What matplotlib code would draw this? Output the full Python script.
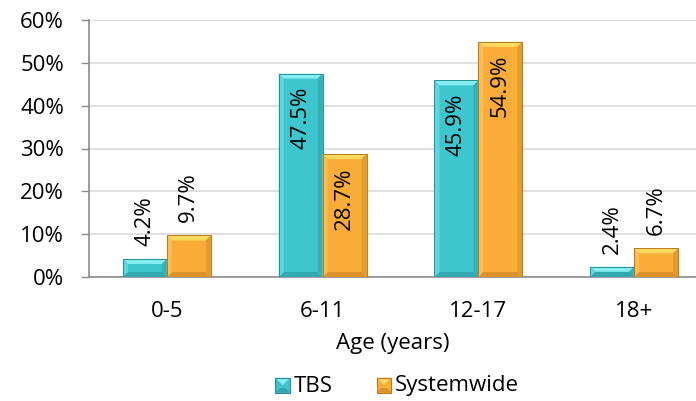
import matplotlib
matplotlib.use("Agg")
import matplotlib.pyplot as plt
from matplotlib.patches import Polygon, Rectangle
from matplotlib.legend_handler import HandlerBase
import numpy as np

categories = ["0-5", "6-11", "12-17", "18+"]
tbs = [4.2, 47.5, 45.9, 2.4]
systemwide = [9.7, 28.7, 54.9, 6.7]
series_names = ["TBS", "Systemwide"]
yticks = [0, 10, 20, 30, 40, 50, 60]

plt.rcParams["font.family"] = ["Open Sans", "DejaVu Sans"]
FS = 16

teal = dict(face="#3EC6CF", top="#86EEF3", left="#5CD7DE", right="#35B0B8",
            bottom="#34A8B0", edge="#2A8D95")
orange = dict(face="#F9AC38", top="#FFD95E", left="#FCBE4E", right="#E59A2D",
              bottom="#DC922A", edge="#B9791E")

fig = plt.figure(figsize=(6.96, 4.01), dpi=100)
ax = fig.add_axes([89 / 696, 124 / 401, 607 / 696, 257 / 401])
ax.set_xlim(-0.5, 3.397)
ax.set_ylim(0, 60)

# bevel size in data units (about 5 px)
px_x = 3.897 / 607
px_y = 60 / 257


def bevel_bar(ax, x0, w, h, c, bev=5):
    x1 = x0 + w
    bx = min(bev * px_x, w / 2)
    by = min(bev * px_y, h / 2)
    ax.add_patch(Rectangle((x0, 0), w, h, facecolor=c["face"], edgecolor="none", zorder=3))
    ax.add_patch(Polygon([(x0, h), (x1, h), (x1 - bx, h - by), (x0 + bx, h - by)],
                         closed=True, facecolor=c["top"], edgecolor="none", zorder=4))
    ax.add_patch(Polygon([(x0, 0), (x1, 0), (x1 - bx, by), (x0 + bx, by)],
                         closed=True, facecolor=c["bottom"], edgecolor="none", zorder=4))
    ax.add_patch(Polygon([(x0, 0), (x0, h), (x0 + bx, h - by), (x0 + bx, by)],
                         closed=True, facecolor=c["left"], edgecolor="none", zorder=4))
    ax.add_patch(Polygon([(x1, 0), (x1, h), (x1 - bx, h - by), (x1 - bx, by)],
                         closed=True, facecolor=c["right"], edgecolor="none", zorder=4))
    ax.add_patch(Rectangle((x0, 0), w, h, facecolor="none", edgecolor=c["edge"],
                           linewidth=0.7, zorder=5))


x = np.arange(len(categories))
w = 0.282
for i in range(len(categories)):
    for j, (vals, c) in enumerate([(tbs, teal), (systemwide, orange)]):
        x0 = x[i] - w + j * w
        v = vals[i]
        bevel_bar(ax, x0, w, v, c)
        label = f"{v:.1f}%"
        cx = x0 + w / 2
        if v > 20:
            ax.annotate(label, (cx, v), xytext=(0, -13), textcoords="offset pixels",
                        rotation=90, ha="center", va="top", fontsize=FS, color="black",
                        zorder=6)
        else:
            ax.annotate(label, (cx, v), xytext=(0, 13), textcoords="offset pixels",
                        rotation=90, ha="center", va="bottom", fontsize=FS, color="black",
                        zorder=6)

ax.set_yticks(yticks)
ax.set_yticklabels([f"{t}%" for t in yticks], fontsize=FS)
ax.set_xticks(x)
ax.set_xticklabels(categories, fontsize=FS)
ax.tick_params(axis="x", length=0, pad=17)
ax.tick_params(axis="y", length=6, width=1, color="#8C8C8C", pad=12)
ax.grid(axis="y", color="#D9D9D9", linewidth=1.2, zorder=0)
ax.set_axisbelow(True)
for s in ["top", "right"]:
    ax.spines[s].set_visible(False)
for s in ["left", "bottom"]:
    ax.spines[s].set_color("#8C8C8C")
    ax.spines[s].set_linewidth(1.2)
ax.set_xlabel("Age (years)", fontsize=FS, labelpad=8)


class BevelHandler(HandlerBase):
    def __init__(self, c):
        super().__init__()
        self.c = c

    def create_artists(self, legend, orig_handle, xdescent, ydescent, width, height,
                       fontsize, trans):
        c = self.c
        s = height * 0.95
        x0 = -xdescent + width - s
        y0 = -ydescent + (height - s) / 2 - 1
        b = s * 0.3
        arts = [
            Rectangle((x0, y0), s, s, facecolor=c["face"], edgecolor="none", transform=trans),
            Polygon([(x0, y0 + s), (x0 + s, y0 + s), (x0 + s / 2, y0 + s / 2)],
                    closed=True, facecolor=c["top"], edgecolor="none", transform=trans),
            Polygon([(x0, y0), (x0 + s, y0), (x0 + s - b, y0 + b), (x0 + b, y0 + b)],
                    closed=True, facecolor=c["bottom"], edgecolor="none", transform=trans),
            Rectangle((x0, y0), s, s, facecolor="none", edgecolor=c["edge"],
                      linewidth=0.8, transform=trans),
        ]
        return arts


h1 = Rectangle((0, 0), 1, 1)
h2 = Rectangle((0, 0), 1, 1)
fig.legend([h1, h2], series_names, loc="center", bbox_to_anchor=(396 / 696, 1 - 386 / 401),
           ncol=2, frameon=False, fontsize=FS, handlelength=0.75, handletextpad=0.15,
           columnspacing=1.9, handler_map={h1: BevelHandler(teal), h2: BevelHandler(orange)})

fig.savefig("out.png", dpi=100)
